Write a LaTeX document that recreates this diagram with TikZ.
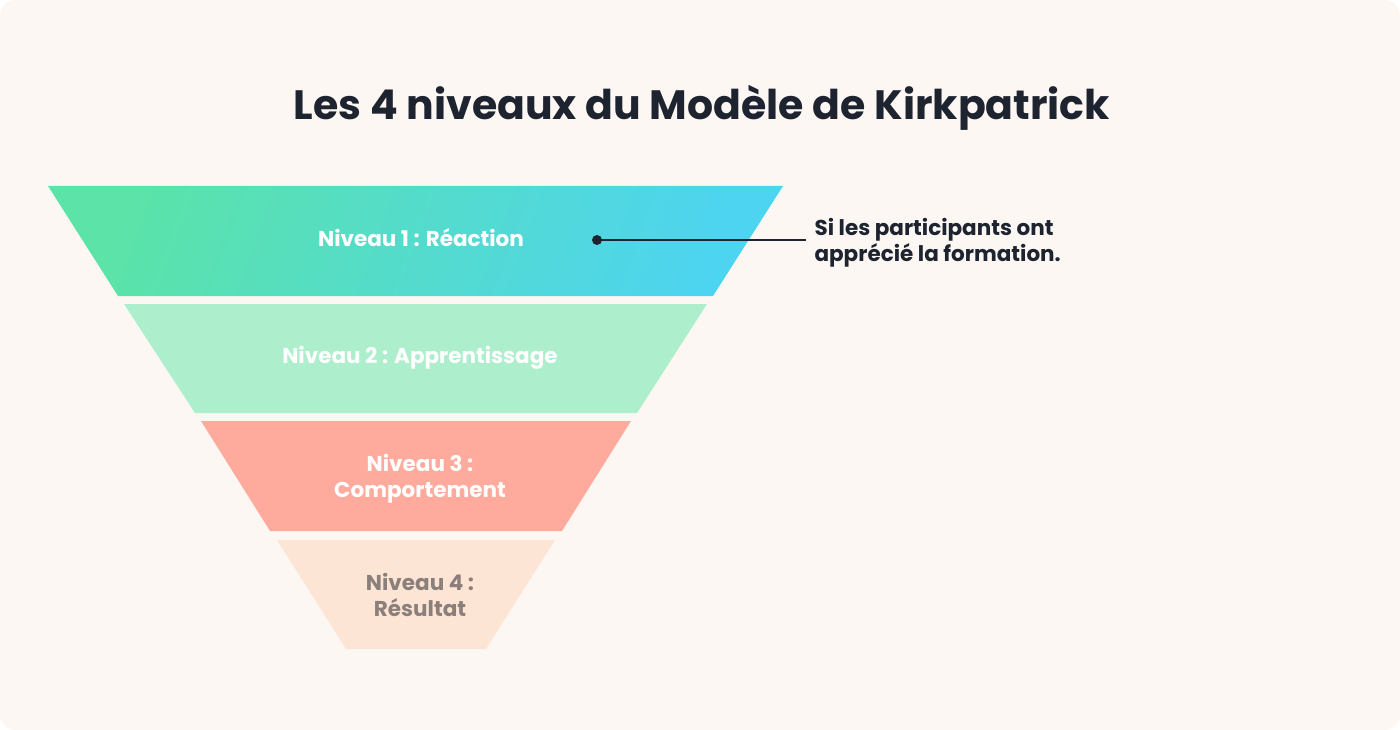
\documentclass[tikz,border=0pt]{standalone}
\usepackage{fontspec}
\setmainfont{Poppins}
\definecolor{bg}{HTML}{FCF7F3}
\definecolor{ink}{HTML}{1E2330}
\definecolor{gA}{HTML}{5BE3A8}
\definecolor{gB}{HTML}{4DD4F0}
\definecolor{c2}{HTML}{ADEFCC}
\definecolor{c3}{HTML}{FEAB9E}
\definecolor{c4}{HTML}{FDE5D6}
\definecolor{t4}{HTML}{8A7F7A}
\begin{document}
\begin{tikzpicture}[x=1pt,y=-1pt,
  lbl/.style={font=\fontsize{21.5}{26}\selectfont\bfseries, align=center, text=white},
  ann/.style={font=\fontsize{21.5}{26}\selectfont\bfseries, align=left, text=ink, anchor=west}]
\useasboundingbox (0,0) rectangle (1400,730);
\fill[white] (0,0) rectangle (1400,730);
\fill[bg, rounded corners=16pt] (0,0) rectangle (1400,730);
\node[font=\fontsize{41}{48}\selectfont\bfseries, text=ink] (title) at (702,108) {Les 4 niveaux du Modèle de Kirkpatrick};
\shade[left color=gA, right color=gB, shading angle=70] (48,186) -- (783,186) -- (713,296) -- (118,296) -- cycle;
\fill[c2] (124,304) -- (707,304) -- (637,413) -- (195,413) -- cycle;
\fill[c3] (201,421) -- (631,421) -- (562,531) -- (270,531) -- cycle;
\fill[c4] (277,540) -- (555,540) -- (486,649) -- (346,649) -- cycle;
\node[lbl] (n1) at (421,238) {Niveau 1 : Réaction};
\node[lbl] (n2) at (420,358) {Niveau 2 : Apprentissage};
\node[lbl] (n3) at (420,479) {Niveau 3 :\\Comportement};
\node[lbl, text=t4] (n4) at (420,595) {Niveau 4 :\\Résultat};
\fill[ink] (597,240) circle (5);
\coordinate (d) at (597,240);
\coordinate (e) at (806,240);
\draw[ink, line width=1.5pt] (d) -- (e);
\node[ann] (a) at (811,243) {Si les participants ont\\apprécié la formation.};
\end{tikzpicture}
\end{document}
